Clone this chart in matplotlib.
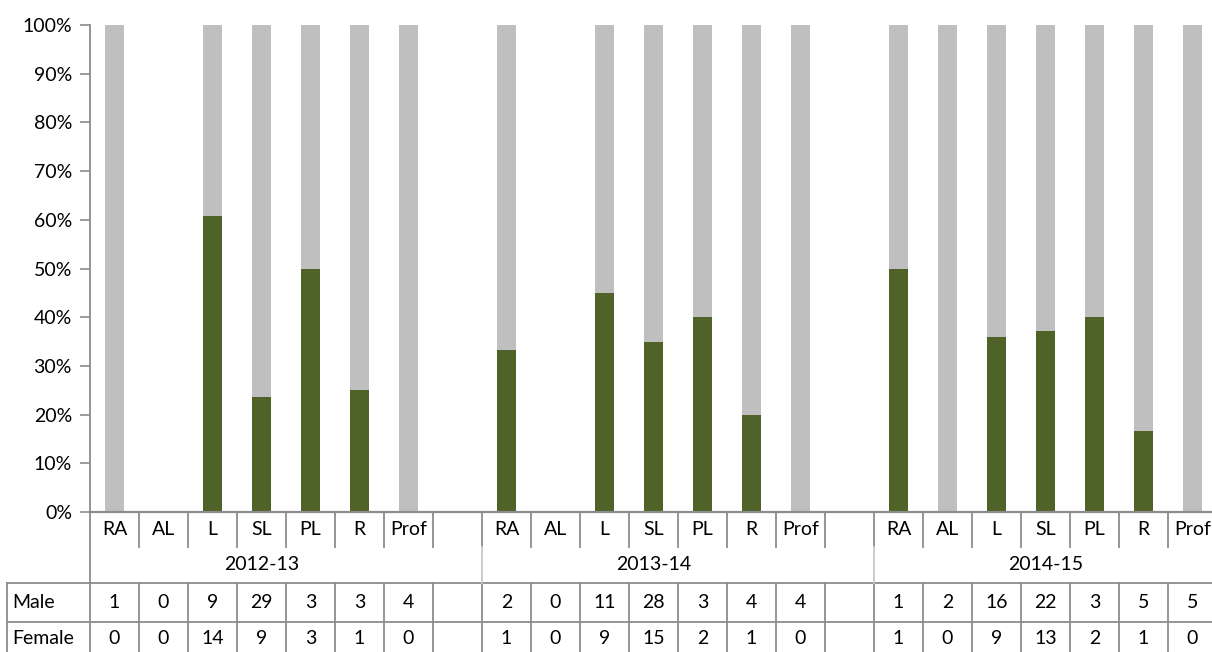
import matplotlib.pyplot as plt
from matplotlib.lines import Line2D

plt.rcParams['font.family'] = ['Lato', 'DejaVu Sans']

# data
years = ['2012-13', '2013-14', '2014-15']
grades = ['RA', 'AL', 'L', 'SL', 'PL', 'R', 'Prof']
male = [[1, 0, 9, 29, 3, 3, 4],
        [2, 0, 11, 28, 3, 4, 4],
        [1, 2, 16, 22, 3, 5, 5]]
female = [[0, 0, 14, 9, 3, 1, 0],
          [1, 0, 9, 15, 2, 1, 0],
          [1, 0, 9, 13, 2, 1, 0]]

GREEN = '#4F6228'
GREY = '#BFBFBF'
LINE = '#8C8C8C'

W, H = 1212, 652
x0 = 90          # left of plot area, px
slot = 49        # width of one category slot, px
y_top, y_axis = 25, 512
n_slots = len(years) * (len(grades) + 1) - 1

fig = plt.figure(figsize=(W / 100, H / 100), dpi=100)
ax = fig.add_axes([x0 / W, (H - y_axis) / H, n_slots * slot / W, (y_axis - y_top) / H])

# slot positions: 7 grades then one empty slot per year
for g, yr in enumerate(years):
    for i, gr in enumerate(grades):
        pos = g * (len(grades) + 1) + i + 0.5
        tot = male[g][i] + female[g][i]
        if tot == 0:
            continue
        f = female[g][i] / tot
        m = male[g][i] / tot
        ax.bar(pos, f, width=0.39, color=GREEN)
        ax.bar(pos, m, width=0.39, bottom=f, color=GREY)

fs = 14
ax.set_xlim(0, n_slots)
ax.set_ylim(0, 1)
ax.set_yticks([i / 10 for i in range(11)])
ax.set_yticklabels([f'{i * 10}%' for i in range(11)])
ax.tick_params(axis='y', length=7, width=1.2, color=LINE, labelsize=fs, pad=6)
ax.tick_params(axis='x', length=0, labelbottom=False)
for s in ['top', 'right', 'bottom']:
    ax.spines[s].set_visible(False)
ax.spines['left'].set_color(LINE)
ax.spines['left'].set_linewidth(1.3)

# table under the chart, drawn in pixel coordinates
ov = fig.add_axes([0, 0, 1, 1])
ov.set_xlim(0, W)
ov.set_ylim(H, 0)
ov.axis('off')
ov.patch.set_alpha(0)

def hline(y, xa, xb, c=LINE, lw=1.3):
    ov.add_line(Line2D([xa, xb], [y, y], color=c, lw=lw))

def vline(x, ya, yb, c=LINE, lw=1.3):
    ov.add_line(Line2D([x, x], [ya, yb], color=c, lw=lw))

x_end = x0 + n_slots * slot
row_cat, row_year, row_m, row_f, row_end = 512, 547, 583, 622, 660
tx = 7

hline(row_cat, x0, x_end, lw=1.6)
hline(row_m, tx, x_end)
hline(row_f, tx, x_end)
vline(tx, row_m, row_end)
vline(x0, row_cat, row_end)
for k in range(1, n_slots + 1):
    x = x0 + k * slot
    vline(x, row_cat, row_year)
    vline(x, row_m, row_end)
for g in range(1, len(years)):
    x = x0 + g * (len(grades) + 1) * slot
    vline(x, row_year, row_m, c='#C8C8C8')

ov.text(12, (row_m + row_f) / 2, 'Male', ha='left', va='center', fontsize=fs)
ov.text(12, (row_f + row_end) / 2 - 3, 'Female', ha='left', va='center', fontsize=fs)
for g, yr in enumerate(years):
    gx = x0 + g * (len(grades) + 1) * slot
    ov.text(gx + len(grades) * slot / 2, (row_year + row_m) / 2, yr,
            ha='center', va='center', fontsize=fs)
    for i, gr in enumerate(grades):
        cx = gx + (i + 0.5) * slot
        ov.text(cx, (row_cat + row_year) / 2, gr, ha='center', va='center', fontsize=fs)
        ov.text(cx, (row_m + row_f) / 2, str(male[g][i]), ha='center', va='center', fontsize=fs)
        ov.text(cx, (row_f + row_end) / 2 - 3, str(female[g][i]), ha='center', va='center', fontsize=fs)

fig.savefig('out.png', dpi=100)
